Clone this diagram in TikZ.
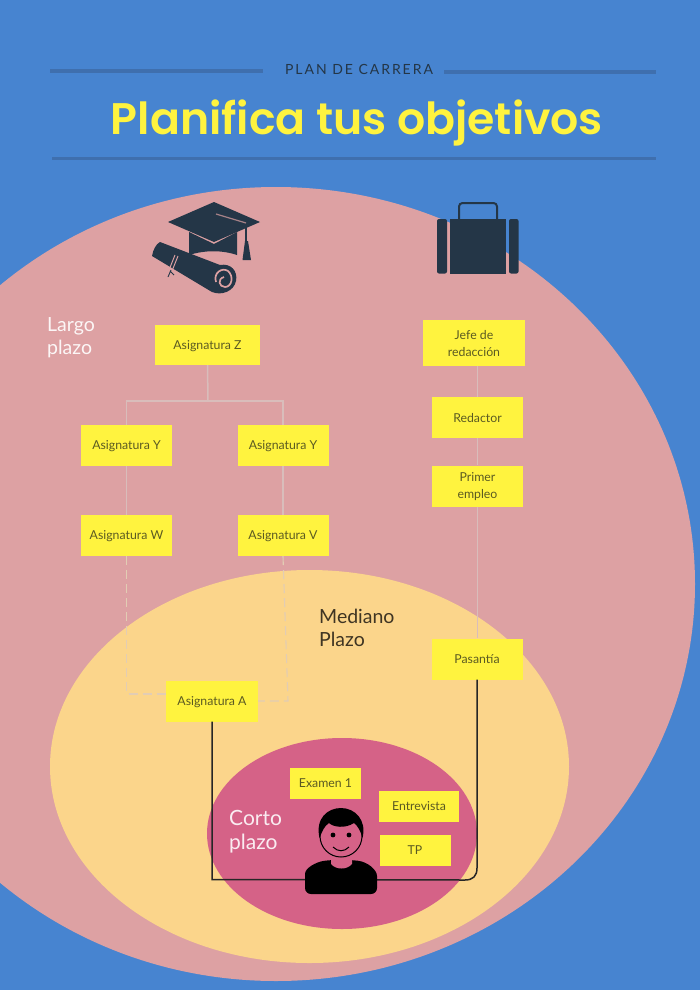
\documentclass[tikz,border=0pt]{standalone}
\usepackage{fontspec}
\setmainfont{Lato}
\newfontfamily\titlefont{Poppins SemiBold}
\definecolor{bgblue}{HTML}{4784D0}
\definecolor{ruleblue}{HTML}{3F6FAE}
\definecolor{bigpink}{HTML}{DDA1A3}
\definecolor{midorange}{HTML}{FBD58B}
\definecolor{smallrose}{HTML}{D56287}
\definecolor{boxyellow}{HTML}{FFF33F}
\definecolor{navy}{HTML}{243647}
\definecolor{boxtext}{HTML}{5B5A22}
\definecolor{linkgrey}{HTML}{D9BDBB}
\definecolor{dashgrey}{HTML}{E2CDB4}
\tikzset{
  itembox/.style={fill=boxyellow,inner sep=0pt,text=boxtext,text depth=0pt,font=\fontsize{12.3}{17}\selectfont,align=center},
  rulebar/.style={draw=ruleblue,line width=3pt},
  link/.style={draw=linkgrey,line width=1.5pt},
  dashlink/.style={draw=dashgrey,line width=1.1pt,dash pattern=on 9pt off 5pt},
  darklink/.style={draw=black!85,line width=1.5pt},
  horizon/.style={font=\fontsize{19.5}{23}\selectfont,align=left,anchor=north west,inner sep=0pt}
}
\begin{document}
\begin{tikzpicture}[x=1pt,y=-1pt]
\useasboundingbox (0,0) rectangle (700,990);
\fill[bgblue] (0,0) rectangle (700,990);
% zones
\begin{scope}
\clip (0,0) rectangle (700,990);
\fill[bigpink] (276,584) ellipse [x radius=419,y radius=397];
\end{scope}
\fill[midorange] (309.5,766.5) ellipse [x radius=259.5,y radius=196.5];
\fill[smallrose] (342,833.5) ellipse [x radius=135,y radius=95.5];
% header
\coordinate (r1a) at (50,71); \coordinate (r1b) at (263,71);
\coordinate (r2a) at (444,72); \coordinate (r2b) at (656,72);
\coordinate (r3a) at (52,158); \coordinate (r3b) at (656,158);
\draw[rulebar] (r1a) -- (r1b);
\draw[rulebar] (r2a) -- (r2b);
\draw[rulebar] (r3a) -- (r3b);
\node[text=navy,font=\fontsize{14}{16}\selectfont,inner sep=0pt] (kicker) at (359,69) {\addfontfeatures{LetterSpace=14}PLAN DE CARRERA};
\node[text=boxyellow,font=\titlefont\fontsize{44.2}{48}\selectfont,inner sep=0pt,anchor=base] (title) at (357,134) {Planifica tus objetivos};
% boxes
\node[itembox,minimum width=105,minimum height=40] (z) at (207.5,345) {Asignatura Z};
\node[itembox,minimum width=91,minimum height=41] (y1) at (126.5,445.5) {Asignatura Y};
\node[itembox,minimum width=91,minimum height=41] (y2) at (283,445.5) {Asignatura Y};
\node[itembox,minimum width=91,minimum height=41] (w) at (126.5,535.5) {Asignatura W};
\node[itembox,minimum width=91,minimum height=41] (v) at (283,535.5) {Asignatura V};
\node[itembox,minimum width=92,minimum height=41] (a) at (212,701) {Asignatura A};
\node[itembox,minimum width=102,minimum height=46] (jefe) at (474,343) {Jefe de\\redacción};
\node[itembox,minimum width=91,minimum height=41] (red) at (477.5,417.5) {Redactor};
\node[itembox,minimum width=91,minimum height=41] (prim) at (477.5,486) {Primer\\empleo};
\node[itembox,minimum width=91,minimum height=41] (pas) at (477,659) {Pasantía};
\node[itembox,minimum width=71,minimum height=31] (ex) at (325.5,783) {Examen 1};
\node[itembox,minimum width=80,minimum height=31] (ent) at (419,806.5) {Entrevista};
\node[itembox,minimum width=71,minimum height=31] (tp) at (415,850) {TP};
% connectors
\coordinate (zj) at (208,401);
\coordinate (yl) at (126.5,401);
\coordinate (yr) at (283,401);
\coordinate (wb) at (126.5,694);
\coordinate (vb) at (288,701);
\draw[link] (z.south) -- (zj);
\draw[link] (y1.north) -- (yl) -- (yr) -- (y2.north);
\draw[link] (y1.south) -- (w.north);
\draw[link] (y2.south) -- (v.north);
\draw[link] (jefe.south -| red.north) -- (red.north);
\draw[link] (red.south) -- (prim.north);
\draw[link] (prim.south) -- (prim.south |- pas.north);
\draw[dashlink] (w.south) -- (wb) -- (a.west |- wb);
\draw[dashlink] (v.south) -- (vb) -- (a.east |- vb);
\coordinate (base) at (212,879.5);
\coordinate (c1) at (465,880);
\coordinate (c2) at (477,868);
\coordinate (c3) at (473,880);
\coordinate (c4) at (477,876);
\draw[darklink] (a.south) -- (base) -- (c1) .. controls (c3) and (c4) .. (c2) -- (pas.south);
% labels
\node[horizon,text=white!90!bigpink] (lp) at (47,317.5) {Largo\\plazo};
\node[horizon,text=black!75!midorange] (mp) at (319,609) {Mediano\\Plazo};
\node[horizon,text=white!88!smallrose,font=\fontsize{21}{24}\selectfont] (cp) at (229,810.5) {Corto\\plazo};
% graduation icon
\fill[navy] (214,202) -- (260,222) -- (214,242) -- (168,222) -- cycle;
\fill[navy] (189,232) -- (214,244) -- (237,232) -- (237,255) .. controls (222,250) and (205,250) .. (189,255) -- cycle;
\draw[bigpink!70!navy,line width=1.2pt] (216,214) -- (246,223);
\draw[navy,line width=1.4pt] (246,224) -- (246,244);
\fill[navy] (245,241) -- (248,241) -- (251,260) -- (242.5,260) -- cycle;
\fill[navy] (152,256) .. controls (153,250) and (156,244) .. (160,242)
  -- (220,265) .. controls (231,263) and (238,271) .. (236,281)
  .. controls (234,291) and (222,296) .. (212,292) -- cycle;
\draw[bigpink,line width=1.7pt] (216,282) .. controls (213,273) and (222,267) .. (228,271)
  .. controls (234,276) and (232,287) .. (225,287) .. controls (219,287) and (217,279) .. (224,277);
\draw[bigpink,line width=1pt] (178,256) -- (172,271) (175,255) -- (169,270);
\draw[navy,line width=.9pt] (171,270) -- (168,277) (170,271) -- (174,275);
% briefcase icon
\draw[navy,line width=2pt,rounded corners=3.5pt] (459,220) -- (459,203) -- (497,203) -- (497,220);
\fill[navy,rounded corners=2pt] (437,219) rectangle (447,273.5);
\fill[navy] (450,219) rectangle (505.5,273.5);
\fill[navy,rounded corners=2pt] (509,219) rectangle (518.5,273.5);
% person icon
\fill[black] (305,894) [rounded corners=6pt] -- (305,880) .. controls (305,868) and (316,862) .. (330,860)
  -- (352,860) .. controls (368,862) and (377,870) .. (377,882) -- (377,894) -- cycle;
\fill[smallrose] (331,850) -- (352,850) -- (352,864) .. controls (347,870) and (336,870) .. (331,864) -- cycle;
\fill[smallrose,draw=black,line width=1pt] (341,836) ellipse [x radius=21,y radius=21];
\fill[black] (319.5,838) .. controls (315,818) and (328,808) .. (341,808)
  .. controls (355,808) and (367,820) .. (362.5,838) .. controls (361,832) and (358,826) .. (354,823)
  .. controls (345,829) and (333,827) .. (329,823) .. controls (324,826) and (322,832) .. (319.5,838) -- cycle;
\fill[black] (333,835) circle (2.4);
\fill[black] (349,835) circle (2.4);
\draw[black,line width=1pt] (333,847) .. controls (338,852) and (344,852) .. (349,847);
\end{tikzpicture}
\end{document}
